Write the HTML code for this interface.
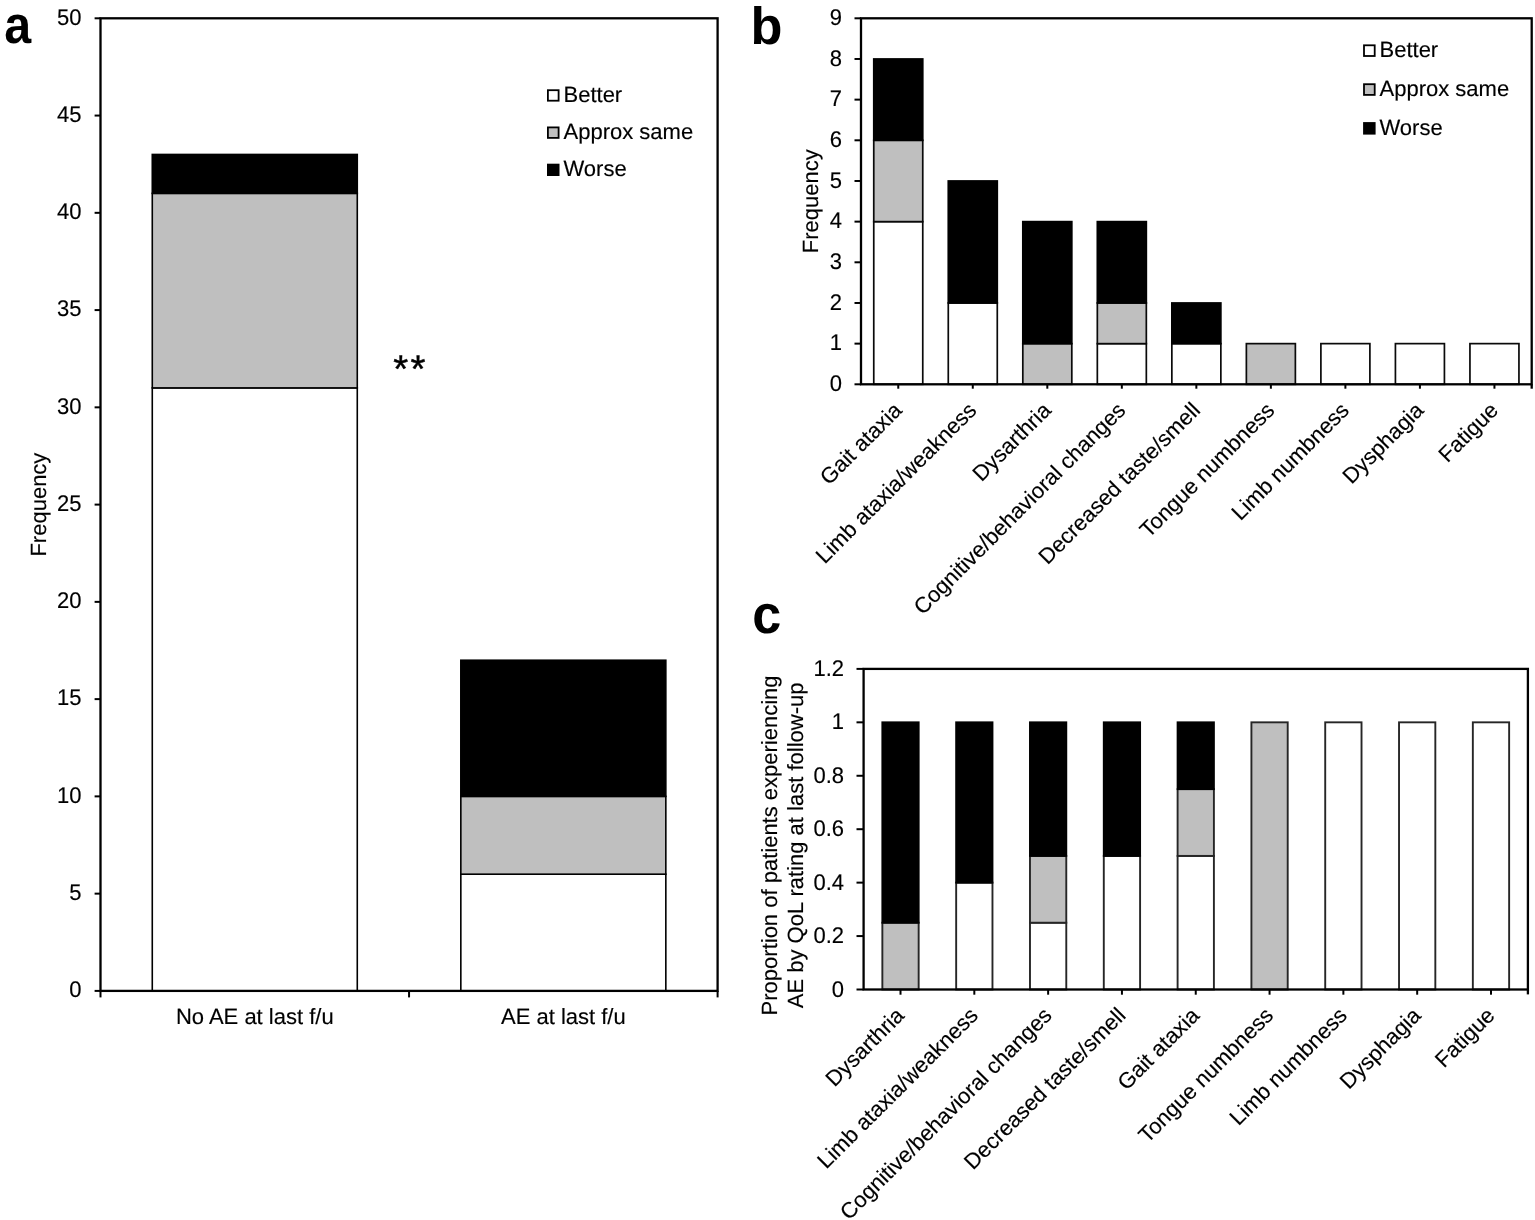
<!DOCTYPE html>
<html><head><meta charset="utf-8"><title>Figure</title>
<style>
html,body{margin:0;padding:0;background:#fff;}
body{width:1535px;height:1220px;overflow:hidden;}
svg{display:block;font-family:"Liberation Sans", Arial, Helvetica, sans-serif;text-rendering:geometricPrecision;}
text{stroke:#000;stroke-width:0.15px;}
</style></head><body>
<svg width="1535" height="1220" viewBox="0 0 1535 1220">
<rect width="1535" height="1220" fill="#fff"/>
<rect x="152.28" y="387.89" width="205" height="603.01" fill="#fff" stroke="#000" stroke-width="1.6"/>
<rect x="152.28" y="193.37" width="205" height="194.52" fill="#bfbfbf" stroke="#000" stroke-width="1.6"/>
<rect x="152.28" y="154.46" width="205" height="38.9" fill="#000" stroke="#000" stroke-width="1.6"/>
<rect x="460.83" y="874.19" width="205" height="116.71" fill="#fff" stroke="#000" stroke-width="1.6"/>
<rect x="460.83" y="796.38" width="205" height="77.81" fill="#bfbfbf" stroke="#000" stroke-width="1.6"/>
<rect x="460.83" y="660.22" width="205" height="136.16" fill="#000" stroke="#000" stroke-width="1.6"/>
<rect x="100.5" y="18.3" width="617.1" height="972.6" fill="none" stroke="#000" stroke-width="2.3"/>
<line x1="94.6" y1="990.9" x2="100.5" y2="990.9" stroke="#000" stroke-width="2.0" stroke-linecap="butt"/>
<text transform="translate(81.6 997.2) scale(1.0 1.03)" text-anchor="end" font-size="22" font-weight="normal">0</text>
<line x1="94.6" y1="893.64" x2="100.5" y2="893.64" stroke="#000" stroke-width="2.0" stroke-linecap="butt"/>
<text transform="translate(81.6 899.94) scale(1.0 1.03)" text-anchor="end" font-size="22" font-weight="normal">5</text>
<line x1="94.6" y1="796.38" x2="100.5" y2="796.38" stroke="#000" stroke-width="2.0" stroke-linecap="butt"/>
<text transform="translate(81.6 802.68) scale(1.0 1.03)" text-anchor="end" font-size="22" font-weight="normal">10</text>
<line x1="94.6" y1="699.12" x2="100.5" y2="699.12" stroke="#000" stroke-width="2.0" stroke-linecap="butt"/>
<text transform="translate(81.6 705.42) scale(1.0 1.03)" text-anchor="end" font-size="22" font-weight="normal">15</text>
<line x1="94.6" y1="601.86" x2="100.5" y2="601.86" stroke="#000" stroke-width="2.0" stroke-linecap="butt"/>
<text transform="translate(81.6 608.16) scale(1.0 1.03)" text-anchor="end" font-size="22" font-weight="normal">20</text>
<line x1="94.6" y1="504.6" x2="100.5" y2="504.6" stroke="#000" stroke-width="2.0" stroke-linecap="butt"/>
<text transform="translate(81.6 510.9) scale(1.0 1.03)" text-anchor="end" font-size="22" font-weight="normal">25</text>
<line x1="94.6" y1="407.34" x2="100.5" y2="407.34" stroke="#000" stroke-width="2.0" stroke-linecap="butt"/>
<text transform="translate(81.6 413.64) scale(1.0 1.03)" text-anchor="end" font-size="22" font-weight="normal">30</text>
<line x1="94.6" y1="310.08" x2="100.5" y2="310.08" stroke="#000" stroke-width="2.0" stroke-linecap="butt"/>
<text transform="translate(81.6 316.38) scale(1.0 1.03)" text-anchor="end" font-size="22" font-weight="normal">35</text>
<line x1="94.6" y1="212.82" x2="100.5" y2="212.82" stroke="#000" stroke-width="2.0" stroke-linecap="butt"/>
<text transform="translate(81.6 219.12) scale(1.0 1.03)" text-anchor="end" font-size="22" font-weight="normal">40</text>
<line x1="94.6" y1="115.56" x2="100.5" y2="115.56" stroke="#000" stroke-width="2.0" stroke-linecap="butt"/>
<text transform="translate(81.6 121.86) scale(1.0 1.03)" text-anchor="end" font-size="22" font-weight="normal">45</text>
<line x1="94.6" y1="18.3" x2="100.5" y2="18.3" stroke="#000" stroke-width="2.0" stroke-linecap="butt"/>
<text transform="translate(81.6 24.6) scale(1.0 1.03)" text-anchor="end" font-size="22" font-weight="normal">50</text>
<line x1="100.5" y1="990.9" x2="100.5" y2="997.4" stroke="#000" stroke-width="2.0" stroke-linecap="butt"/>
<line x1="409.05" y1="990.9" x2="409.05" y2="997.4" stroke="#000" stroke-width="2.0" stroke-linecap="butt"/>
<line x1="717.6" y1="990.9" x2="717.6" y2="997.4" stroke="#000" stroke-width="2.0" stroke-linecap="butt"/>
<text transform="translate(254.78 1023.6)" text-anchor="middle" font-size="22" font-weight="normal">No AE at last f/u</text>
<text transform="translate(563.33 1023.6)" text-anchor="middle" font-size="22" font-weight="normal">AE at last f/u</text>
<text transform="translate(46 504.6) rotate(-90)" text-anchor="middle" font-size="22" font-weight="normal">Frequency</text>
<rect x="547.9" y="90.2" width="10.7" height="10.5" fill="#fff" stroke="#000" stroke-width="1.8"/>
<text transform="translate(563.5 101.9)" text-anchor="start" font-size="22" font-weight="normal">Better</text>
<rect x="547.9" y="127.4" width="10.7" height="10.5" fill="#bfbfbf" stroke="#000" stroke-width="1.8"/>
<text transform="translate(563.5 139.1)" text-anchor="start" font-size="22" font-weight="normal">Approx same</text>
<rect x="547.9" y="164.6" width="10.7" height="10.5" fill="#000" stroke="#000" stroke-width="1.8"/>
<text transform="translate(563.5 176.3)" text-anchor="start" font-size="22" font-weight="normal">Worse</text>
<text transform="translate(410.5 381.8)" text-anchor="middle" font-size="38.5" font-weight="normal" letter-spacing="2.4" style="stroke-width:0.45px">**</text>
<text transform="translate(4.3 43.3) scale(0.913 1.0)" text-anchor="start" font-size="53" font-weight="bold" style="stroke:none">a</text>
<rect x="873.76" y="221.63" width="49" height="162.67" fill="#fff" stroke="#0a0a0a" stroke-width="1.7"/>
<rect x="873.76" y="140.3" width="49" height="81.33" fill="#bfbfbf" stroke="#0a0a0a" stroke-width="1.7"/>
<rect x="873.76" y="58.97" width="49" height="81.33" fill="#000" stroke="#000" stroke-width="1.7"/>
<rect x="948.28" y="302.97" width="49" height="81.33" fill="#fff" stroke="#0a0a0a" stroke-width="1.7"/>
<rect x="948.28" y="180.97" width="49" height="122" fill="#000" stroke="#000" stroke-width="1.7"/>
<rect x="1022.81" y="343.63" width="49" height="40.67" fill="#bfbfbf" stroke="#0a0a0a" stroke-width="1.7"/>
<rect x="1022.81" y="221.63" width="49" height="122" fill="#000" stroke="#000" stroke-width="1.7"/>
<rect x="1097.33" y="343.63" width="49" height="40.67" fill="#fff" stroke="#0a0a0a" stroke-width="1.7"/>
<rect x="1097.33" y="302.97" width="49" height="40.67" fill="#bfbfbf" stroke="#0a0a0a" stroke-width="1.7"/>
<rect x="1097.33" y="221.63" width="49" height="81.33" fill="#000" stroke="#000" stroke-width="1.7"/>
<rect x="1171.85" y="343.63" width="49" height="40.67" fill="#fff" stroke="#0a0a0a" stroke-width="1.7"/>
<rect x="1171.85" y="302.97" width="49" height="40.67" fill="#000" stroke="#000" stroke-width="1.7"/>
<rect x="1246.37" y="343.63" width="49" height="40.67" fill="#bfbfbf" stroke="#0a0a0a" stroke-width="1.7"/>
<rect x="1320.89" y="343.63" width="49" height="40.67" fill="#fff" stroke="#0a0a0a" stroke-width="1.7"/>
<rect x="1395.42" y="343.63" width="49" height="40.67" fill="#fff" stroke="#0a0a0a" stroke-width="1.7"/>
<rect x="1469.94" y="343.63" width="49" height="40.67" fill="#fff" stroke="#0a0a0a" stroke-width="1.7"/>
<rect x="861.0" y="18.3" width="670.7" height="366" fill="none" stroke="#000" stroke-width="2.3"/>
<line x1="854.5" y1="384.3" x2="861" y2="384.3" stroke="#000" stroke-width="2.0" stroke-linecap="butt"/>
<text transform="translate(841.9 391.1) scale(1.0 1.03)" text-anchor="end" font-size="22" font-weight="normal">0</text>
<line x1="854.5" y1="343.63" x2="861" y2="343.63" stroke="#000" stroke-width="2.0" stroke-linecap="butt"/>
<text transform="translate(841.9 350.43) scale(1.0 1.03)" text-anchor="end" font-size="22" font-weight="normal">1</text>
<line x1="854.5" y1="302.97" x2="861" y2="302.97" stroke="#000" stroke-width="2.0" stroke-linecap="butt"/>
<text transform="translate(841.9 309.77) scale(1.0 1.03)" text-anchor="end" font-size="22" font-weight="normal">2</text>
<line x1="854.5" y1="262.3" x2="861" y2="262.3" stroke="#000" stroke-width="2.0" stroke-linecap="butt"/>
<text transform="translate(841.9 269.1) scale(1.0 1.03)" text-anchor="end" font-size="22" font-weight="normal">3</text>
<line x1="854.5" y1="221.63" x2="861" y2="221.63" stroke="#000" stroke-width="2.0" stroke-linecap="butt"/>
<text transform="translate(841.9 228.43) scale(1.0 1.03)" text-anchor="end" font-size="22" font-weight="normal">4</text>
<line x1="854.5" y1="180.97" x2="861" y2="180.97" stroke="#000" stroke-width="2.0" stroke-linecap="butt"/>
<text transform="translate(841.9 187.77) scale(1.0 1.03)" text-anchor="end" font-size="22" font-weight="normal">5</text>
<line x1="854.5" y1="140.3" x2="861" y2="140.3" stroke="#000" stroke-width="2.0" stroke-linecap="butt"/>
<text transform="translate(841.9 147.1) scale(1.0 1.03)" text-anchor="end" font-size="22" font-weight="normal">6</text>
<line x1="854.5" y1="99.63" x2="861" y2="99.63" stroke="#000" stroke-width="2.0" stroke-linecap="butt"/>
<text transform="translate(841.9 106.43) scale(1.0 1.03)" text-anchor="end" font-size="22" font-weight="normal">7</text>
<line x1="854.5" y1="58.97" x2="861" y2="58.97" stroke="#000" stroke-width="2.0" stroke-linecap="butt"/>
<text transform="translate(841.9 65.77) scale(1.0 1.03)" text-anchor="end" font-size="22" font-weight="normal">8</text>
<line x1="854.5" y1="18.3" x2="861" y2="18.3" stroke="#000" stroke-width="2.0" stroke-linecap="butt"/>
<text transform="translate(841.9 25.1) scale(1.0 1.03)" text-anchor="end" font-size="22" font-weight="normal">9</text>
<line x1="898.26" y1="384.3" x2="898.26" y2="388.7" stroke="#000" stroke-width="2.0" stroke-linecap="butt"/>
<text transform="translate(903.26 411.6) rotate(-45)" text-anchor="end" font-size="22" font-weight="normal">Gait ataxia</text>
<line x1="972.78" y1="384.3" x2="972.78" y2="388.7" stroke="#000" stroke-width="2.0" stroke-linecap="butt"/>
<text transform="translate(977.78 411.6) rotate(-45)" text-anchor="end" font-size="22" font-weight="normal">Limb ataxia/weakness</text>
<line x1="1047.31" y1="384.3" x2="1047.31" y2="388.7" stroke="#000" stroke-width="2.0" stroke-linecap="butt"/>
<text transform="translate(1052.31 411.6) rotate(-45)" text-anchor="end" font-size="22" font-weight="normal">Dysarthria</text>
<line x1="1121.83" y1="384.3" x2="1121.83" y2="388.7" stroke="#000" stroke-width="2.0" stroke-linecap="butt"/>
<text transform="translate(1126.83 411.6) rotate(-45)" text-anchor="end" font-size="22" font-weight="normal">Cognitive/behavioral changes</text>
<line x1="1196.35" y1="384.3" x2="1196.35" y2="388.7" stroke="#000" stroke-width="2.0" stroke-linecap="butt"/>
<text transform="translate(1201.35 411.6) rotate(-45)" text-anchor="end" font-size="22" font-weight="normal">Decreased taste/smell</text>
<line x1="1270.87" y1="384.3" x2="1270.87" y2="388.7" stroke="#000" stroke-width="2.0" stroke-linecap="butt"/>
<text transform="translate(1275.87 411.6) rotate(-45)" text-anchor="end" font-size="22" font-weight="normal">Tongue numbness</text>
<line x1="1345.39" y1="384.3" x2="1345.39" y2="388.7" stroke="#000" stroke-width="2.0" stroke-linecap="butt"/>
<text transform="translate(1350.39 411.6) rotate(-45)" text-anchor="end" font-size="22" font-weight="normal">Limb numbness</text>
<line x1="1419.92" y1="384.3" x2="1419.92" y2="388.7" stroke="#000" stroke-width="2.0" stroke-linecap="butt"/>
<text transform="translate(1424.92 411.6) rotate(-45)" text-anchor="end" font-size="22" font-weight="normal">Dysphagia</text>
<line x1="1494.44" y1="384.3" x2="1494.44" y2="388.7" stroke="#000" stroke-width="2.0" stroke-linecap="butt"/>
<text transform="translate(1499.44 411.6) rotate(-45)" text-anchor="end" font-size="22" font-weight="normal">Fatigue</text>
<line x1="1531.7" y1="384.3" x2="1531.7" y2="388.7" stroke="#000" stroke-width="2.3" stroke-linecap="butt"/>
<text transform="translate(818.1 201.3) rotate(-90)" text-anchor="middle" font-size="22" font-weight="normal">Frequency</text>
<rect x="1364" y="45.3" width="10.7" height="10.7" fill="#fff" stroke="#000" stroke-width="1.8"/>
<text transform="translate(1379.5 57)" text-anchor="start" font-size="22" font-weight="normal">Better</text>
<rect x="1364" y="84.2" width="10.7" height="10.7" fill="#bfbfbf" stroke="#000" stroke-width="1.8"/>
<text transform="translate(1379.5 95.9)" text-anchor="start" font-size="22" font-weight="normal">Approx same</text>
<rect x="1364" y="123" width="10.7" height="10.7" fill="#000" stroke="#000" stroke-width="1.8"/>
<text transform="translate(1379.5 134.7)" text-anchor="start" font-size="22" font-weight="normal">Worse</text>
<text transform="translate(750.6 43.6)" text-anchor="start" font-size="52.3" font-weight="bold" style="stroke:none">b</text>
<rect x="882.36" y="922.71" width="36.3" height="66.79" fill="#bfbfbf" stroke="#262626" stroke-width="1.9"/>
<rect x="882.36" y="722.33" width="36.3" height="200.38" fill="#000" stroke="#000" stroke-width="1.9"/>
<rect x="956.17" y="882.63" width="36.3" height="106.87" fill="#fff" stroke="#262626" stroke-width="1.9"/>
<rect x="956.17" y="722.33" width="36.3" height="160.3" fill="#000" stroke="#000" stroke-width="1.9"/>
<rect x="1029.98" y="922.71" width="36.3" height="66.79" fill="#fff" stroke="#262626" stroke-width="1.9"/>
<rect x="1029.98" y="855.92" width="36.3" height="66.79" fill="#bfbfbf" stroke="#262626" stroke-width="1.9"/>
<rect x="1029.98" y="722.33" width="36.3" height="133.58" fill="#000" stroke="#000" stroke-width="1.9"/>
<rect x="1103.79" y="855.92" width="36.3" height="133.58" fill="#fff" stroke="#262626" stroke-width="1.9"/>
<rect x="1103.79" y="722.33" width="36.3" height="133.58" fill="#000" stroke="#000" stroke-width="1.9"/>
<rect x="1177.6" y="855.92" width="36.3" height="133.58" fill="#fff" stroke="#262626" stroke-width="1.9"/>
<rect x="1177.6" y="789.12" width="36.3" height="66.79" fill="#bfbfbf" stroke="#262626" stroke-width="1.9"/>
<rect x="1177.6" y="722.33" width="36.3" height="66.79" fill="#000" stroke="#000" stroke-width="1.9"/>
<rect x="1251.41" y="722.33" width="36.3" height="267.17" fill="#bfbfbf" stroke="#262626" stroke-width="1.9"/>
<rect x="1325.22" y="722.33" width="36.3" height="267.17" fill="#fff" stroke="#262626" stroke-width="1.9"/>
<rect x="1399.03" y="722.33" width="36.3" height="267.17" fill="#fff" stroke="#262626" stroke-width="1.9"/>
<rect x="1472.84" y="722.33" width="36.3" height="267.17" fill="#fff" stroke="#262626" stroke-width="1.9"/>
<rect x="863.6" y="668.9" width="664.3" height="320.6" fill="none" stroke="#000" stroke-width="2.3"/>
<line x1="856.5" y1="989.5" x2="863.6" y2="989.5" stroke="#000" stroke-width="2.0" stroke-linecap="butt"/>
<text transform="translate(844 996.5) scale(1.0 1.03)" text-anchor="end" font-size="22" font-weight="normal">0</text>
<line x1="856.5" y1="936.07" x2="863.6" y2="936.07" stroke="#000" stroke-width="2.0" stroke-linecap="butt"/>
<text transform="translate(844 943.07) scale(1.0 1.03)" text-anchor="end" font-size="22" font-weight="normal">0.2</text>
<line x1="856.5" y1="882.63" x2="863.6" y2="882.63" stroke="#000" stroke-width="2.0" stroke-linecap="butt"/>
<text transform="translate(844 889.63) scale(1.0 1.03)" text-anchor="end" font-size="22" font-weight="normal">0.4</text>
<line x1="856.5" y1="829.2" x2="863.6" y2="829.2" stroke="#000" stroke-width="2.0" stroke-linecap="butt"/>
<text transform="translate(844 836.2) scale(1.0 1.03)" text-anchor="end" font-size="22" font-weight="normal">0.6</text>
<line x1="856.5" y1="775.77" x2="863.6" y2="775.77" stroke="#000" stroke-width="2.0" stroke-linecap="butt"/>
<text transform="translate(844 782.77) scale(1.0 1.03)" text-anchor="end" font-size="22" font-weight="normal">0.8</text>
<line x1="856.5" y1="722.33" x2="863.6" y2="722.33" stroke="#000" stroke-width="2.0" stroke-linecap="butt"/>
<text transform="translate(844 729.33) scale(1.0 1.03)" text-anchor="end" font-size="22" font-weight="normal">1</text>
<line x1="856.5" y1="668.9" x2="863.6" y2="668.9" stroke="#000" stroke-width="2.0" stroke-linecap="butt"/>
<text transform="translate(844 675.9) scale(1.0 1.03)" text-anchor="end" font-size="22" font-weight="normal">1.2</text>
<line x1="900.51" y1="989.5" x2="900.51" y2="994.7" stroke="#000" stroke-width="2.0" stroke-linecap="butt"/>
<text transform="translate(905.51 1016.8) rotate(-45)" text-anchor="end" font-size="22" font-weight="normal">Dysarthria</text>
<line x1="974.32" y1="989.5" x2="974.32" y2="994.7" stroke="#000" stroke-width="2.0" stroke-linecap="butt"/>
<text transform="translate(979.32 1016.8) rotate(-45)" text-anchor="end" font-size="22" font-weight="normal">Limb ataxia/weakness</text>
<line x1="1048.13" y1="989.5" x2="1048.13" y2="994.7" stroke="#000" stroke-width="2.0" stroke-linecap="butt"/>
<text transform="translate(1053.13 1016.8) rotate(-45)" text-anchor="end" font-size="22" font-weight="normal">Cognitive/behavioral changes</text>
<line x1="1121.94" y1="989.5" x2="1121.94" y2="994.7" stroke="#000" stroke-width="2.0" stroke-linecap="butt"/>
<text transform="translate(1126.94 1016.8) rotate(-45)" text-anchor="end" font-size="22" font-weight="normal">Decreased taste/smell</text>
<line x1="1195.75" y1="989.5" x2="1195.75" y2="994.7" stroke="#000" stroke-width="2.0" stroke-linecap="butt"/>
<text transform="translate(1200.75 1016.8) rotate(-45)" text-anchor="end" font-size="22" font-weight="normal">Gait ataxia</text>
<line x1="1269.56" y1="989.5" x2="1269.56" y2="994.7" stroke="#000" stroke-width="2.0" stroke-linecap="butt"/>
<text transform="translate(1274.56 1016.8) rotate(-45)" text-anchor="end" font-size="22" font-weight="normal">Tongue numbness</text>
<line x1="1343.37" y1="989.5" x2="1343.37" y2="994.7" stroke="#000" stroke-width="2.0" stroke-linecap="butt"/>
<text transform="translate(1348.37 1016.8) rotate(-45)" text-anchor="end" font-size="22" font-weight="normal">Limb numbness</text>
<line x1="1417.18" y1="989.5" x2="1417.18" y2="994.7" stroke="#000" stroke-width="2.0" stroke-linecap="butt"/>
<text transform="translate(1422.18 1016.8) rotate(-45)" text-anchor="end" font-size="22" font-weight="normal">Dysphagia</text>
<line x1="1490.99" y1="989.5" x2="1490.99" y2="994.7" stroke="#000" stroke-width="2.0" stroke-linecap="butt"/>
<text transform="translate(1495.99 1016.8) rotate(-45)" text-anchor="end" font-size="22" font-weight="normal">Fatigue</text>
<line x1="1527.9" y1="989.5" x2="1527.9" y2="994.4" stroke="#000" stroke-width="2.3" stroke-linecap="butt"/>
<text transform="translate(776.7 845.4) rotate(-90)" text-anchor="middle" font-size="22" font-weight="normal">Proportion of patients experiencing</text>
<text transform="translate(802.5 845.4) rotate(-90)" text-anchor="middle" font-size="22" font-weight="normal">AE by QoL rating at last follow-up</text>
<text transform="translate(752.3 633.3) scale(0.985 1.025)" text-anchor="start" font-size="53" font-weight="bold" style="stroke:none">c</text>
</svg>
</body></html>
